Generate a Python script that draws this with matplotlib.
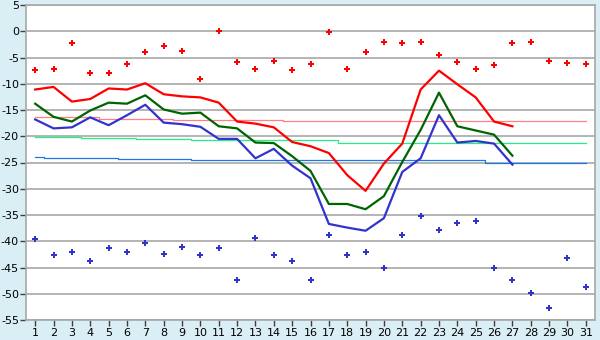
import numpy as np
import matplotlib
matplotlib.use("Agg")
from matplotlib import pyplot as plt

plt.rcParams["axes.unicode_minus"] = False

# days of the month
days = list(range(1, 32))

# daily extremes (points)
max_pts = [-7.3, -7.1, -2.2, -8.0, -8.0, -6.3, -3.9, -2.9, -3.7, -9.0,
           0.0, -5.8, -7.1, -5.6, -7.3, -6.2, -0.2, -7.1, -3.9, -2.0,
           -2.2, -2.0, -4.6, -5.8, -7.1, -6.5, -2.3, -2.0, -5.6, -6.0, -6.3]
min_pts = [-39.6, -42.7, -42.1, -43.8, -41.2, -42.1, -40.4, -42.5, -41.0, -42.7,
           -41.2, -47.3, -39.3, -42.7, -43.8, -47.3, -38.9, -42.7, -42.1, -45.0,
           -38.9, -35.1, -37.9, -36.6, -36.2, -45.0, -47.3, -49.9, -52.8, -43.1, -48.8]

# this month's lines (days 1-27)
line_days = list(range(1, 28))
t_max = [-11.1, -10.6, -13.4, -12.9, -10.9, -11.1, -9.9, -12.0, -12.4, -12.6,
         -13.6, -17.2, -17.6, -18.3, -21.1, -21.9, -23.2, -27.4, -30.4, -25.2,
         -21.4, -11.1, -7.5, -10.1, -12.6, -17.2, -18.1]
t_mean = [-13.8, -16.3, -17.2, -15.1, -13.6, -13.8, -12.2, -14.9, -15.7, -15.5,
          -18.1, -18.5, -21.2, -21.3, -23.8, -26.6, -32.9, -32.9, -33.9, -31.4,
          -24.9, -18.8, -11.7, -18.1, -18.9, -19.7, -23.7]
t_min = [-16.8, -18.5, -18.3, -16.4, -17.9, -16.0, -14.0, -17.4, -17.7, -18.2,
         -20.5, -20.5, -24.2, -22.4, -25.6, -28.0, -36.7, -37.4, -38.0, -35.6,
         -26.8, -24.2, -16.0, -21.2, -20.9, -21.4, -25.4]

# long term normals
norm_max = [-16.4] * 4 + [-16.7] * 4 + [-16.9] * 6 + [-17.0] * 5 + [-17.1] * 12
norm_mean = [-20.2] * 3 + [-20.4] * 3 + [-20.55] * 3 + [-20.7] * 8 + [-21.2] * 14
norm_min = [-24.0] * 1 + [-24.2] * 4 + [-24.35] * 4 + [-24.55] * 16 + [-25.0] * 6

bg = "#daeef5"
fig = plt.figure(figsize=(6, 3.4), dpi=100, facecolor=bg)
ax = fig.add_axes([26 / 600, 1 - 320 / 340, 569 / 600, 315 / 340])
ax.set_facecolor("white")

ax.set_xlim(0.5, 31.5)
ax.set_ylim(-55, 5)
ax.set_yticks(np.arange(-55, 6, 5))
ax.set_xticks(days)
ax.grid(axis="y", color="#a8a8a8", linewidth=1.2)
ax.set_axisbelow(True)

ax.plot(days, norm_max, color="#ff8080", lw=0.9, drawstyle="steps-mid")
ax.plot(days, norm_mean, color="#22ee88", lw=0.9, drawstyle="steps-mid")
ax.plot(days, norm_min, color="#1a78e8", lw=0.9, drawstyle="steps-mid")

ax.plot(line_days, t_max, color="#ff0000", lw=1.6)
ax.plot(line_days, t_mean, color="#006400", lw=1.6)
ax.plot(line_days, t_min, color="#3333cc", lw=1.6)

ax.plot(days, max_pts, ls="none", marker="P", ms=4.5, color="#ff0000", mew=0)
ax.plot(days, min_pts, ls="none", marker="P", ms=4.5, color="#3333cc", mew=0)

for s in ax.spines.values():
    s.set_color("#a8a8a8")
    s.set_linewidth(1.2)
ax.tick_params(axis="both", colors="#404040", labelcolor="black", labelsize=8,
               length=4, width=1)
ax.tick_params(axis="x", pad=2)
ax.tick_params(axis="y", pad=1)

fig.savefig("out.png", dpi=100, facecolor=bg)
